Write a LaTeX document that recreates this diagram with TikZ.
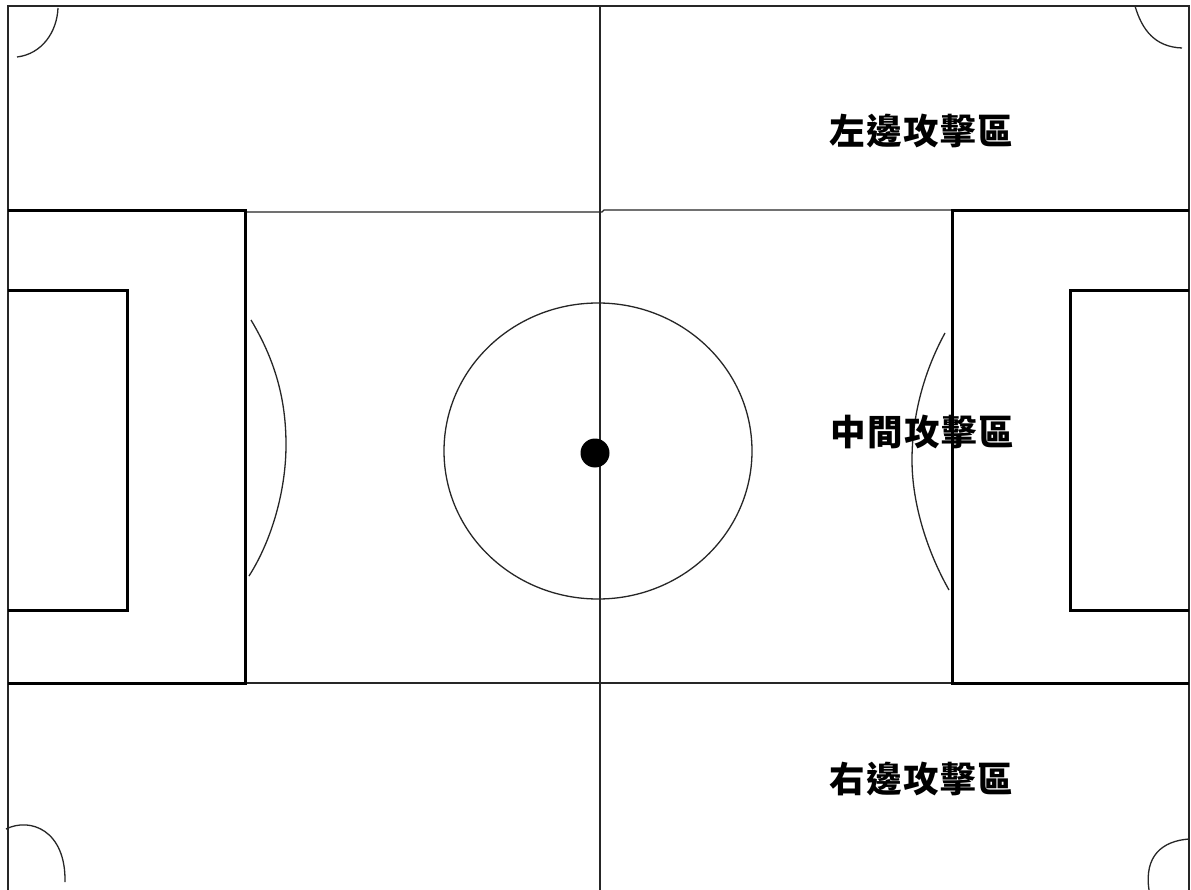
\documentclass[tikz,border=0pt]{standalone}
\usepackage{fontspec}
\newfontfamily\cjk[LetterSpace=4]{Noto Sans CJK TC}
\tikzset{thinl/.style={line width=1.3pt,black!85},thickl/.style={line width=3pt,black},lab/.style={font=\cjk\bfseries\fontsize{35.5}{37}\selectfont,inner sep=0pt}}
\begin{document}
\begin{tikzpicture}[x=1pt,y=-1pt]
\useasboundingbox (0,0) rectangle (1191,890);
\fill[white] (0,0) rectangle (1191,890);
% outer
\draw[thinl,line width=1.8pt] (8,890) -- (8,6) -- (1189,6) -- (1189,890);
\draw[thinl,line width=1.6pt] (600,6) -- (600,890);
\draw[thinl] (245,212) -- (602,212) -- (604,210) -- (952,210);
\draw[thinl] (245,683) -- (952,683);
% penalty boxes
\draw[thickl] (8,211) -- (245,211) -- (245,683) -- (8,683);
\draw[thickl] (8,291) -- (127,291) -- (127,610) -- (8,610);
\draw[thickl] (1189,211) -- (952,211) -- (952,683) -- (1189,683);
\draw[thickl] (1189,291) -- (1070,291) -- (1070,610) -- (1189,610);
% arcs
\draw[thinl] (251,320) .. controls (278,365) and (286,405) .. (286,445) .. controls (286,490) and (272,540) .. (249,576);
\draw[thinl] (945,333) .. controls (922,375) and (912,420) .. (912,460) .. controls (912,505) and (928,553) .. (949,590);
% centre circle
\draw[thinl] (598,451) ellipse (154 and 148);
\fill[black] (595,453) circle (14.5);
% corners
\draw[thinl] (58,8) .. controls (57,32) and (42,54) .. (17,57);
\draw[thinl] (1135,6) .. controls (1142,30) and (1155,47) .. (1182,48);
\draw[thinl] (6,829) .. controls (30,817) and (66,830) .. (65,882);
\draw[thinl] (1189,839) .. controls (1162,841) and (1144,856) .. (1149,890);
% labels
\node[lab] (a) at (921,131) {左邊攻擊區};
\node[lab] (b) at (922,432) {中間攻擊區};
\node[lab] (c) at (921,779) {右邊攻擊區};
\end{tikzpicture}
\end{document}
